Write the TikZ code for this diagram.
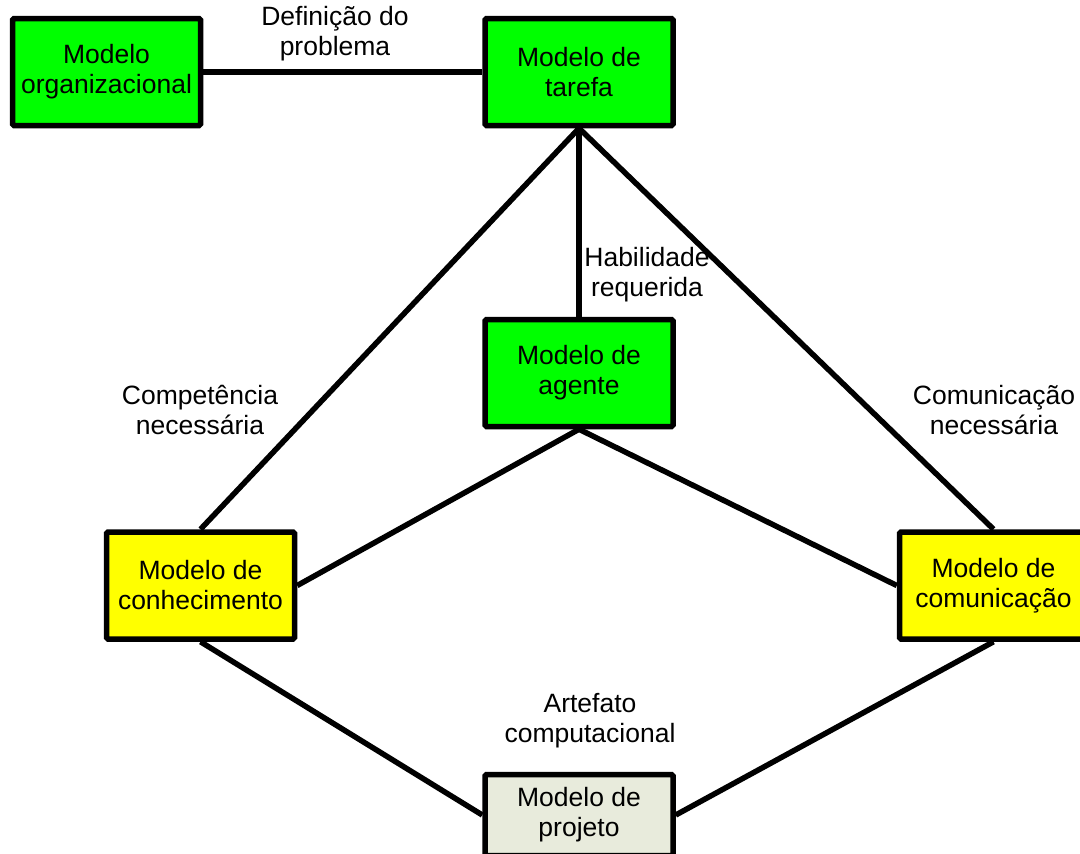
\documentclass[tikz,border=0pt]{standalone}
\usepackage{fontspec}
\setmainfont{Liberation Sans}
\definecolor{boxgreen}{HTML}{00FF00}
\definecolor{boxyellow}{HTML}{FFFF00}
\definecolor{boxgrey}{HTML}{E8EBDC}
\begin{document}
\begin{tikzpicture}[x=1pt,y=-1pt,
  modelbox/.style={draw=black, line width=5.5pt, rounded corners=1.5pt,
    minimum width=188pt, minimum height=107pt, inner sep=0pt,
    align=center, font=\fontsize{26.5}{30}\selectfont},
  lbl/.style={align=center, inner sep=0pt, font=\fontsize{26.5}{30}\selectfont},
  link/.style={line width=5.5pt}]
\useasboundingbox (0,0) rectangle (1080,854);
\fill[white] (0,0) rectangle (1080,854);

% models
\node[modelbox, fill=boxgreen] (org) at (106.5,72) {Modelo\\organizacional};
\node[modelbox, fill=boxgreen] (task) at (579,72) {Modelo de\\tarefa};
\node[modelbox, fill=boxgreen] (agent) at (579,373) {Modelo de\\agente};
\node[modelbox, fill=boxyellow] (know) at (200.5,585.5) {Modelo de\\conhecimento};
\node[modelbox, fill=boxyellow] (comm) at (993.5,585.5) {Modelo de\\comunicação};
\node[modelbox, fill=boxgrey, minimum height=81pt] (design) at (579,815) {Modelo de\\projeto};

% relations
\draw[link] (org.east) -- (task.west);
\draw[link] (task.south) -- (agent.north);
\draw[link] (task.south) -- (know.north);
\draw[link] (task.south) -- (comm.north);
\draw[link] (agent.south) -- (know.east);
\draw[link] (agent.south) -- (comm.west);
\draw[link] (know.south) -- (design.west);
\draw[link] (comm.south) -- (design.east);

% relation labels
\node[lbl] (l1) at (335,34) {Definição do\\problema};
\node[lbl] (l2) at (647,275) {Habilidade\\requerida};
\node[lbl] (l3) at (200,410) {Competência\\necessária};
\node[lbl] (l4) at (994,410) {Comunicação\\necessária};
\node[lbl] (l5) at (590,721) {Artefato\\computacional};
\end{tikzpicture}
\end{document}
